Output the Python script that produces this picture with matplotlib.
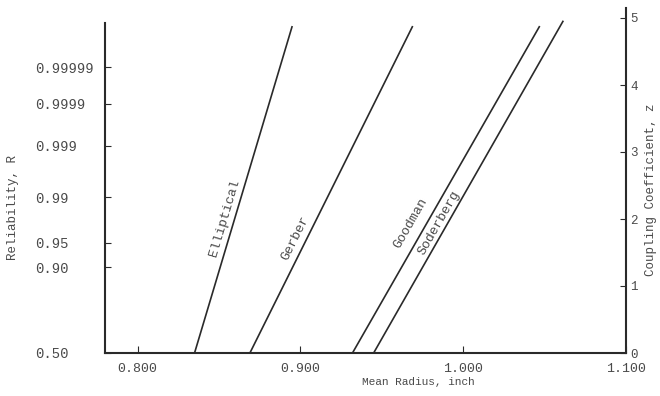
import matplotlib
matplotlib.use('Agg')
import matplotlib.pyplot as plt
import numpy as np
from statistics import NormalDist

# reliability tick values on the left axis (plotted at their normal z value)
RELIABILITY = [0.50, 0.90, 0.95, 0.99, 0.999, 0.9999, 0.99999]
RELIABILITY_LABELS = ["0.50", "0.90", "0.95", "0.99", "0.999", "0.9999", "0.99999"]

Z_TICKS = [0, 1, 2, 3, 4, 5]
RADIUS_TICKS = [0.800, 0.900, 1.000, 1.100]

# criteria lines: mean radius at z = 0 and at top of chart
CRITERIA = ["Elliptical", "Gerber", "Goodman", "Soderberg"]
RADIUS_START = [0.835, 0.869, 0.932, 0.945]
RADIUS_END = [0.895, 0.969, 1.047, 1.0615]
Z_END = [4.88, 4.88, 4.88, 4.96]
LABEL_X = [0.8535, 0.8966, 0.9674, 0.9855]
LABEL_Z = [2.01, 1.72, 1.93, 1.95]

FONT = "Liberation Mono"
LINE_COL = "#2a2a2a"
TEXT_COL = "#4a4a4a"

fig = plt.figure(figsize=(6.6, 3.96), dpi=100)
ax = fig.add_axes([105 / 660, 1 - 353 / 396, 521 / 660, 349 / 396])
ax.set_xlim(0.78, 1.10)
ax.set_ylim(0, 349 / 67)

for name, x0, x1, z1 in zip(CRITERIA, RADIUS_START, RADIUS_END, Z_END):
    ax.plot([x0, x1], [0, z1], color=LINE_COL, linewidth=1.2, solid_capstyle="butt")

# labels along the lines
fig.canvas.draw()
for name, x0, x1, z1, lx, lz in zip(CRITERIA, RADIUS_START, RADIUS_END, Z_END, LABEL_X, LABEL_Z):
    p0 = ax.transData.transform((x0, 0))
    p1 = ax.transData.transform((x1, z1))
    angle = np.degrees(np.arctan2(p1[1] - p0[1], p1[0] - p0[0]))
    ax.text(lx, lz, name, rotation=angle, rotation_mode="anchor", ha="center", va="center",
            fontsize=9.5, family=FONT, color=TEXT_COL)

# spines
ax.spines["top"].set_visible(False)
ax.spines["left"].set_bounds(0, 4.93)
ax.spines["right"].set_bounds(0, 5.15)
for side in ("left", "right", "bottom"):
    ax.spines[side].set_linewidth(1.5)
    ax.spines[side].set_color(LINE_COL)

# left axis: reliability at normal quantiles
zr = [NormalDist().inv_cdf(r) for r in RELIABILITY]
ax.set_yticks(zr)
ax.set_yticklabels(RELIABILITY_LABELS)
ax.tick_params(axis="y", which="both", direction="in", length=4, width=0.8,
               colors=LINE_COL, labelcolor=TEXT_COL, pad=50, left=True, right=False)
for lab in ax.get_yticklabels():
    lab.set_horizontalalignment("left")
    lab.set_family(FONT)
    lab.set_fontsize(10)

# right axis: coupling coefficient
ax2 = ax.twinx()
ax2.set_ylim(ax.get_ylim())
for side in ("top", "left", "bottom", "right"):
    ax2.spines[side].set_visible(False)
ax2.set_yticks(Z_TICKS)
ax2.set_yticklabels([str(z) for z in Z_TICKS])
ax2.tick_params(axis="y", direction="in", length=4, width=0.8, colors=LINE_COL,
                labelcolor=TEXT_COL, pad=3)
for lab in ax2.get_yticklabels():
    lab.set_family(FONT)
    lab.set_fontsize(9)

# bottom axis
ax.set_xticks(RADIUS_TICKS)
ax.set_xticklabels([f"{v:.3f}" for v in RADIUS_TICKS])
ax.tick_params(axis="x", direction="in", length=5, width=0.8, colors=LINE_COL,
               labelcolor=TEXT_COL, pad=7)
for lab in ax.get_xticklabels():
    lab.set_family(FONT)
    lab.set_fontsize(9.5)

fig.text(418 / 660, 1 - 382 / 396, "Mean Radius, inch", ha="center", va="center",
         fontsize=8, family=FONT, color=TEXT_COL)
fig.text(13 / 660, 1 - 208 / 396, "Reliability, R", rotation=90, ha="center", va="center",
         fontsize=9, family=FONT, color=TEXT_COL)
fig.text(651 / 660, 1 - 190 / 396, "Coupling Coefficient, z", rotation=90, ha="center",
         va="center", fontsize=9, family=FONT, color=TEXT_COL)

fig.savefig("out.png", dpi=100, facecolor="white")
